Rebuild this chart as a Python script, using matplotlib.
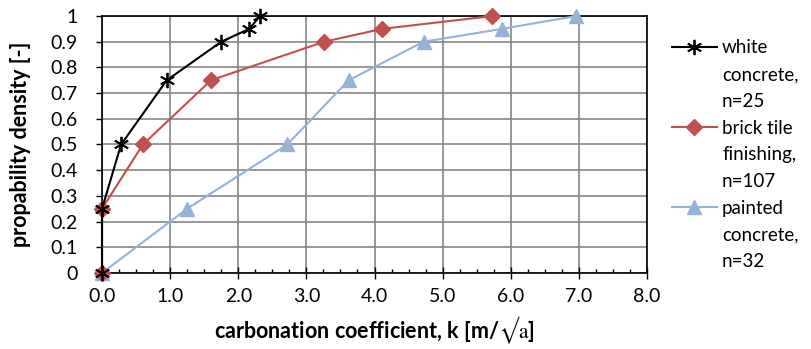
import matplotlib
matplotlib.use("Agg")
import matplotlib.pyplot as plt
from matplotlib.lines import Line2D
from matplotlib.ticker import MultipleLocator, FormatStrFormatter

# data
white_k = [0.0, 0.0, 0.28, 0.95, 1.75, 2.16, 2.32]
white_p = [0.0, 0.25, 0.5, 0.75, 0.9, 0.95, 1.0]

brick_k = [0.0, 0.0, 0.6, 1.6, 3.26, 4.11, 5.73]
brick_p = [0.0, 0.25, 0.5, 0.75, 0.9, 0.95, 1.0]

painted_k = [0.0, 1.25, 2.72, 3.62, 4.72, 5.87, 6.96]
painted_p = [0.0, 0.25, 0.5, 0.75, 0.9, 0.95, 1.0]

labels = [["white", "concrete,", "n=25"],
          ["brick tile", "finishing,", "n=107"],
          ["painted", "concrete,", "n=32"]]

plt.rcParams["font.family"] = ["Lato", "DejaVu Sans"]
plt.rcParams["mathtext.fontset"] = "stix"

fig = plt.figure(figsize=(8.11, 3.49), dpi=100)
ax = fig.add_axes([0.1258, 0.218, 0.672, 0.736])

l_paint, = ax.plot(painted_k, painted_p, color="#95B3D7", lw=1.5, marker="^",
                   ms=10, zorder=3, clip_on=False)
l_brick, = ax.plot(brick_k, brick_p, color="#C0504D", lw=1.5, marker="D",
                   ms=8.5, zorder=4, clip_on=False)
l_white, = ax.plot(white_k, white_p, color="black", lw=1.5, marker=(6, 2, 0),
                   ms=11, mew=1.3, zorder=5, clip_on=False)

ax.set_xlim(0, 8)
ax.set_ylim(0, 1)
ax.xaxis.set_major_locator(MultipleLocator(1))
ax.xaxis.set_minor_locator(MultipleLocator(0.25))
ax.xaxis.set_major_formatter(FormatStrFormatter("%.1f"))
ax.yaxis.set_major_locator(MultipleLocator(0.1))
ax.yaxis.set_major_formatter(
    lambda v, pos: "0" if abs(v) < 1e-9 else ("1" if abs(v - 1) < 1e-9 else f"{v:.1f}"))

ax.grid(True, which="major", color="#868686", lw=1.2)
ax.set_axisbelow(True)
for s in ax.spines.values():
    s.set_color("black")
    s.set_linewidth(1.2)

ax.tick_params(axis="both", which="major", labelsize=14)
ax.tick_params(axis="x", which="major", direction="inout", length=8, width=1, pad=7)
ax.tick_params(axis="x", which="minor", direction="in", length=3, width=1)
ax.tick_params(axis="y", which="major", direction="out", length=4.5, width=1, pad=13)

ax.set_xlabel("carbonation coefficient, k [m/$\\mathrm{√a}$]", fontsize=15.5,
              fontweight="bold", labelpad=7)
ax.set_ylabel("propability density [-]", fontsize=15.5, fontweight="bold", labelpad=14)

# legend: one row per text line, handle on the first line of each entry
blank = Line2D([], [], linestyle="none")
handles, texts = [], []
for line, lab in zip([l_white, l_brick, l_paint], labels):
    for i, part in enumerate(lab):
        handles.append(line if i == 0 else blank)
        texts.append(part)

fig.legend(handles, texts, loc="center left", bbox_to_anchor=(0.8286, 0.556),
           frameon=False, fontsize=13.5, handlelength=2.4, labelspacing=0.52,
           handletextpad=0.27, borderpad=0, borderaxespad=0)

fig.savefig("out.png", dpi=100)
